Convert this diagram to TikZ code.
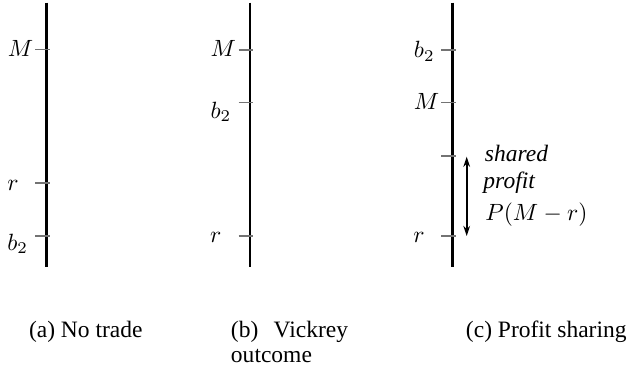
\documentclass[tikz,border=0pt]{standalone}
\usepackage[no-math]{fontspec}
\setmainfont{Liberation Serif}
\usetikzlibrary{arrows.meta}
\begin{document}
\begin{tikzpicture}[x=0.4255pt,y=-0.4255pt,
  axisline/.style={line width=1.15pt,draw=black},
  tickmark/.style={line width=0.8pt,draw=black!55},
  lab/.style={anchor=base west,inner sep=0pt,outer sep=0pt},
  captext/.style={anchor=base west,inner sep=0pt,outer sep=0pt,font=\fontsize{10}{11}\selectfont},
  dblarrow/.style={line width=0.8pt,{Stealth[length=4.3pt,width=2.8pt]}-{Stealth[length=4.3pt,width=2.8pt]}}]
\useasboundingbox (0,0) rectangle (627,375);
% axes
\foreach \n/\x in {a/46.7,b/250,c/452.7}{
  \coordinate (\n top) at (\x,2.5);
  \coordinate (\n bot) at (\x,267);
  \draw[axisline] (\n top) -- (\n bot);
}
% tick positions
\coordinate (aM) at (46.7,49.5);
\coordinate (ar) at (46.7,183);
\coordinate (ab) at (46.7,236);
\coordinate (bM) at (250,50);
\coordinate (bb) at (250,102.5);
\coordinate (br) at (250,236);
\coordinate (cb) at (452.7,50);
\coordinate (cM) at (452.7,102.5);
\coordinate (cs) at (452.7,156);
\coordinate (cr) at (452.7,236);
\foreach \t in {aM,ar,ab,bM,bb,br,cb,cM,cs,cr}{
  \draw[tickmark] (\t) ++(-11.4,0) -- ++(14.7,0);
}
% labels
\node[lab] (laM) at (8,56.5) {$M$};
\node[lab] (lar) at (7.3,190) {$r$};
\node[lab] (lab2) at (7.3,250) {$b_2$};
\node[lab] (lbM) at (210.5,56.5) {$M$};
\node[lab] (lbb) at (210.5,118) {$b_2$};
\node[lab] (lbr) at (210,242) {$r$};
\node[lab] (lcb) at (414,57.5) {$b_2$};
\node[lab] (lcM) at (414,109) {$M$};
\node[lab] (lcr) at (413.5,242) {$r$};
% shared profit arrow
\coordinate (pt) at (466.7,156.7);
\coordinate (pb) at (466.7,236);
\draw[dblarrow] (pt) -- (pb);
\node[lab,font=\itshape] (tsh) at (485,161.7) {shared};
\node[lab,font=\itshape] (tpr) at (483.5,188) {profit};
\node[lab] (tpm) at (485.5,220) {$P(M-r)$};
% captions
\node[captext] (capa) at (29,337) {(a) No trade};
\node[captext,text width=49.8pt,align=left] (capb) at (231,337) {(b)\hfill Vickrey\\outcome};
\node[captext] (capc) at (466,337) {(c) Profit sharing};
\end{tikzpicture}
\end{document}
